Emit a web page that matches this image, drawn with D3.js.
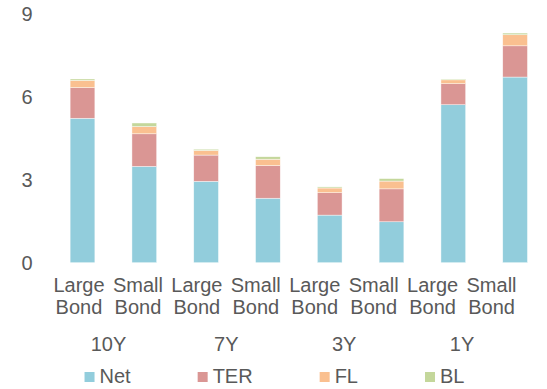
<!DOCTYPE html>
<html>
<head>
<meta charset="utf-8">
<script src="https://cdn.jsdelivr.net/npm/d3@7"></script>
<style>
  html, body { margin: 0; padding: 0; background: #fff; }
  svg { display: block; }
  text { font-family: "Liberation Sans", Arial, sans-serif; fill: #595959; }
</style>
</head>
<body>
<svg id="chart" width="547" height="389"></svg>
<script>
// ---- data ----
const groups = ["10Y", "7Y", "3Y", "1Y"];
const subLabels = ["Large", "Small"];
const categories = ["10Y Large", "10Y Small", "7Y Large", "7Y Small", "3Y Large", "3Y Small", "1Y Large", "1Y Small"];
const seriesNames = ["Net", "TER", "FL", "BL"];
const netValues = [5.22, 3.48, 2.94, 2.33, 1.72, 1.48, 5.71, 6.71];
const terValues = [1.11, 1.18, 0.95, 1.18, 0.81, 1.19, 0.76, 1.13];
const flValues  = [0.26, 0.26, 0.17, 0.23, 0.17, 0.28, 0.14, 0.40];
const blValues  = [0.05, 0.13, 0.04, 0.09, 0.04, 0.09, 0.03, 0.06];
const yTicks = [0, 3, 6, 9];
const colors = ["#92CDDC", "#DA9694", "#FAC090", "#C4D79B"];

const svg = d3.select("#chart");
const W = 547, H = 389;
const plot = { left: 51.6, right: 546, top: 13.7, bottom: 262.7 };

const rows = categories.map((c, i) => ({
  cat: c, Net: netValues[i], TER: terValues[i], FL: flValues[i], BL: blValues[i]
}));
const stacked = d3.stack().keys(seriesNames)(rows);

const x = d3.scaleBand().domain(categories).range([plot.left, plot.right]).paddingInner(0.6).paddingOuter(0.3);
const y = d3.scaleLinear().domain([0, 9]).range([plot.bottom, plot.top]);

// label scales (Excel places category labels on a slightly narrower span)
const labelX = d3.scaleBand().domain(categories).range([49.5, 521]);
const groupX = d3.scaleBand().domain(groups).range([49.5, 521]);

// bars
svg.append("g").selectAll("g").data(stacked).join("g")
  .attr("fill", (d, i) => colors[i])
  .selectAll("rect").data(d => d).join("rect")
  .attr("x", d => x(d.data.cat))
  .attr("width", x.bandwidth())
  .attr("y", d => y(d[1]))
  .attr("height", d => y(d[0]) - y(d[1]))
  .attr("stroke", "#ffffff")
  .attr("stroke-width", 0.6)
  .attr("stroke-opacity", 0.7);

// y axis tick labels
svg.append("g").selectAll("text").data(yTicks).join("text")
  .attr("x", 32.5)
  .attr("y", d => y(d) + 7.2)
  .attr("text-anchor", "end")
  .attr("font-size", 20)
  .text(d => d);

// category labels
const catG = svg.append("g");
categories.forEach((c, i) => {
  const cx = labelX(c) + labelX.bandwidth() / 2;
  catG.append("text").attr("x", cx).attr("y", 291.7).attr("text-anchor", "middle")
    .attr("font-size", 20).text(subLabels[i % 2]);
  catG.append("text").attr("x", cx).attr("y", 314.3).attr("text-anchor", "middle")
    .attr("font-size", 20).text("Bond");
});

// group labels
svg.append("g").selectAll("text").data(groups).join("text")
  .attr("x", d => groupX(d) + groupX.bandwidth() / 2)
  .attr("y", 350.7)
  .attr("text-anchor", "middle")
  .attr("font-size", 20)
  .text(d => d);

// legend
const leg = svg.append("g");
const items = seriesNames.map((s, i) => {
  const g = leg.append("g");
  g.append("rect").attr("width", 10).attr("height", 10).attr("y", 372).attr("fill", colors[i]);
  const t = g.append("text").attr("x", 15).attr("y", 382.7).attr("font-size", 20).text(s);
  const w = 15 + t.node().getComputedTextLength();
  return { g, w };
});
const gap = 67;
const total = d3.sum(items, d => d.w) + gap * (items.length - 1);
let cx0 = (W - total) / 2 + 1;
items.forEach(it => {
  it.g.attr("transform", `translate(${cx0},0)`);
  cx0 += it.w + gap;
});
</script>
</body>
</html>
